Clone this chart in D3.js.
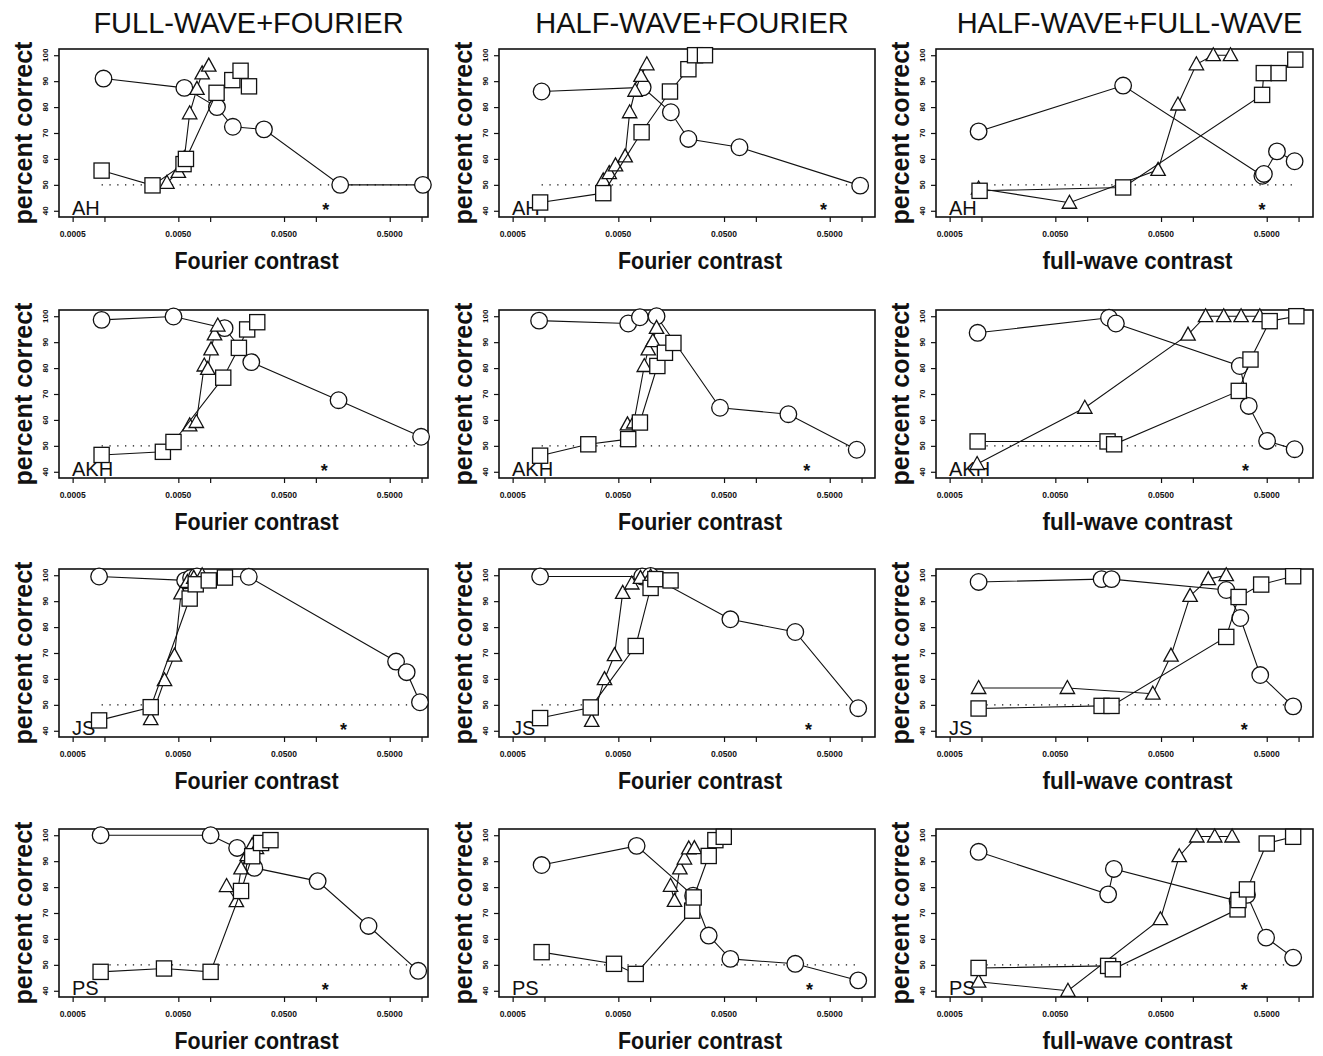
<!DOCTYPE html>
<html><head><meta charset="utf-8">
<script src="https://cdn.jsdelivr.net/npm/d3@7"></script>
<style>body{margin:0;background:#fff}svg{display:block}</style>
</head><body>
<svg id="chart" width="1323" height="1056"></svg>
<script>
// ---------- labels ----------
const titles = ["FULL-WAVE+FOURIER", "HALF-WAVE+FOURIER", "HALF-WAVE+FULL-WAVE"];
const xAxisTitles = ["Fourier contrast", "Fourier contrast", "full-wave contrast"];
const yAxisTitle = "percent correct";
const subjects = ["AH", "AKH", "JS", "PS"];
const yTicks = [40, 50, 60, 70, 80, 90, 100];
const xMajorTicks = [0.0005, 0.005, 0.05, 0.5];
const xTickLabels = ["0.0005", "0.0050", "0.0500", "0.5000"];
const xMinorTicks = [0.001, 0.01, 0.1, 1];
const chanceLevel = 50;
const chanceRange = [0.00094, 0.93];
const asteriskY = 42;
// asterisk contrast per panel (rows AH, AKH, JS, PS; columns FW+F, HW+F, HW+FW)
const asteriskX = [0.124, 0.436, 0.452, 0.12, 0.303, 0.315, 0.183, 0.315, 0.307, 0.123, 0.321, 0.307];

// ---------- data: [contrast, percent correct] ----------
// AH
const ahFwfCircle = [[0.00098,91],[0.0057,87.4],[0.0116,80],[0.0164,72.4],[0.0323,71.4],[0.17,50],[1.03,50]];
const ahFwfTriangle = [[0.0039,50.8],[0.0050,55],[0.0057,60.3],[0.0064,77.6],[0.0075,87],[0.0084,93],[0.0097,96]];
const ahFwfSquare = [[0.00094,55.5],[0.00285,49.8],[0.0056,58],[0.0059,60],[0.0115,85.5],[0.0162,90.4],[0.0194,94],[0.0233,88]];
const ahHwfCircle = [[0.00094,86],[0.0085,87.6],[0.0157,78],[0.023,67.7],[0.07,64.5],[0.97,49.7]];
const ahHwfTriangle = [[0.0036,51.7],[0.0041,54.5],[0.0047,57.5],[0.0058,61],[0.0064,78],[0.0072,86.3],[0.0082,92],[0.0093,96.5]];
const ahHwfSquare = [[0.00091,43.2],[0.0036,46.8],[0.0083,70.3],[0.0154,86],[0.023,94.6],[0.0266,100],[0.033,100]];
const ahHwfwCircle = [[0.00094,70.6],[0.0219,88.3],[0.455,53.5],[0.47,54.2],[0.625,62.9],[0.918,59.1]];
const ahHwfwTriangle = [[0.00094,48.6],[0.0068,43.1],[0.0469,55.8],[0.0723,81],[0.108,96.5],[0.156,100],[0.227,100]];
const ahHwfwSquare = [[0.00096,47.7],[0.0219,49],[0.452,84.7],[0.469,93.1],[0.648,93.1],[0.931,98.3]];
// AKH
const akhFwfCircle = [[0.00094,98.6],[0.0045,99.9],[0.0137,95.4],[0.0245,82.3],[0.164,67.6],[0.99,53.5]];
const akhFwfTriangle = [[0.0064,57.9],[0.0074,59.2],[0.0088,81],[0.0095,79.7],[0.0102,87.2],[0.011,93],[0.0118,96.4]];
const akhFwfSquare = [[0.00094,46.5],[0.00357,47.7],[0.0045,51.5],[0.0133,76.3],[0.0187,87.8],[0.0224,94.9],[0.0279,97.7]];
const akhHwfCircle = [[0.00089,98.3],[0.0062,97.2],[0.008,99.6],[0.0115,100],[0.0458,64.7],[0.203,62.2],[0.9,48.5]];
const akhHwfTriangle = [[0.0061,58.3],[0.007,59],[0.0088,80.8],[0.0096,87.2],[0.0106,90.4],[0.0115,95.5]];
const akhHwfSquare = [[0.00091,46.2],[0.0026,50.6],[0.0062,52.6],[0.008,59],[0.0117,80.8],[0.0138,85.9],[0.0166,89.7]];
const akhHwfwCircle = [[0.00092,93.6],[0.0161,99.4],[0.0187,97.2],[0.278,80.8],[0.338,65.4],[0.504,51.9],[0.918,48.7]];
const akhHwfwTriangle = [[0.00091,43],[0.0095,64.7],[0.09,92.9],[0.132,100],[0.196,100],[0.286,100],[0.43,100]];
const akhHwfwSquare = [[0.00092,51.7],[0.0156,51.7],[0.018,50.6],[0.272,71.2],[0.351,83.3],[0.533,98.1],[0.953,100]];
// JS
const jsFwfCircle = [[0.00089,99.5],[0.0058,98],[0.0066,99],[0.0075,99.5],[0.0232,99.4],[0.574,66.7],[0.723,62.6],[0.966,51]];
const jsFwfTriangle = [[0.00274,44.5],[0.0037,59.5],[0.0046,69],[0.0053,93],[0.0061,97.4],[0.007,99],[0.0084,100]];
const jsFwfSquare = [[0.00089,44],[0.00274,49.1],[0.0064,91],[0.0073,96.5],[0.0097,98],[0.0138,99.1]];
const jsHwfCircle = [[0.00091,99.5],[0.0084,99.5],[0.0101,99.7],[0.0574,83],[0.236,78.1],[0.93,48.7]];
const jsHwfTriangle = [[0.0028,43.8],[0.0037,59.9],[0.0046,69.2],[0.0055,93.2],[0.0067,96.8],[0.0081,99],[0.0101,99.5]];
const jsHwfSquare = [[0.00091,44.9],[0.00274,49],[0.0073,72.7],[0.0101,95.1],[0.0112,98.5],[0.0156,98]];
const jsHwfwCircle = [[0.00094,97.4],[0.0137,98.5],[0.017,98.5],[0.207,94.3],[0.281,83.5],[0.434,61.5],[0.889,49.4]];
const jsHwfwTriangle = [[0.00094,56.5],[0.0065,56.5],[0.0418,54.3],[0.0621,69],[0.0942,92],[0.14,98.5],[0.207,100]];
const jsHwfwSquare = [[0.00094,48.6],[0.0137,49.6],[0.017,49.6],[0.207,76.2],[0.271,91.6],[0.443,96.4],[0.889,99.6]];
// PS
const psFwfCircle = [[0.00092,100],[0.0101,100],[0.018,95.1],[0.0262,87.4],[0.104,82.3],[0.315,65],[0.93,47.7]];
const psFwfTriangle = [[0.0143,80.4],[0.0177,74.6],[0.0196,87.2],[0.0224,92.3],[0.025,96.2],[0.0274,95]];
const psFwfSquare = [[0.00092,47.3],[0.00366,48.6],[0.0101,47.3],[0.0196,78.5],[0.025,91.9],[0.0303,97],[0.0372,98.1]];
const psHwfCircle = [[0.00094,88.5],[0.00745,95.9],[0.0255,76.7],[0.0358,61.3],[0.0574,52.3],[0.236,50.4],[0.93,44]];
const psHwfTriangle = [[0.0156,80.5],[0.017,74.7],[0.0191,87.2],[0.0211,91],[0.0232,94.9],[0.0262,95]];
const psHwfSquare = [[0.00094,54.9],[0.00455,50.4],[0.0073,46.5],[0.025,70.9],[0.0258,76],[0.0358,92],[0.0414,98.1],[0.0497,99.4]];
const psHwfwCircle = [[0.00094,93.6],[0.0158,77.2],[0.0179,87],[0.265,74.6],[0.325,77],[0.493,60.5],[0.889,52.8]];
const psHwfwTriangle = [[0.00094,43.5],[0.00658,40],[0.0493,67.6],[0.0743,91.9],[0.109,99.5],[0.161,99.5],[0.235,99.5]];
const psHwfwSquare = [[0.00094,48.8],[0.0158,49.6],[0.0175,48.3],[0.265,71.4],[0.27,75],[0.325,79.1],[0.5,96.8],[0.889,99.4]];

const panelSeries = [
  [ahFwfCircle, ahFwfTriangle, ahFwfSquare], [ahHwfCircle, ahHwfTriangle, ahHwfSquare], [ahHwfwCircle, ahHwfwTriangle, ahHwfwSquare],
  [akhFwfCircle, akhFwfTriangle, akhFwfSquare], [akhHwfCircle, akhHwfTriangle, akhHwfSquare], [akhHwfwCircle, akhHwfwTriangle, akhHwfwSquare],
  [jsFwfCircle, jsFwfTriangle, jsFwfSquare], [jsHwfCircle, jsHwfTriangle, jsHwfSquare], [jsHwfwCircle, jsHwfwTriangle, jsHwfwSquare],
  [psFwfCircle, psFwfTriangle, psFwfSquare], [psHwfCircle, psHwfTriangle, psHwfSquare], [psHwfwCircle, psHwfwTriangle, psHwfwSquare]
];
const markerKinds = ["circle", "triangle", "square"];

// ---------- layout ----------
const colLeft = [59, 499, 936];
const colWidth = [369, 376, 377];
const rowTop = [49, 310, 569, 829];
const plotH = 168;
const pxPerDecade = 105.7;
const logLeft = -3.43;
const ink = "#111";
const font = "'Liberation Sans', Arial, Helvetica, sans-serif";

const svg = d3.select("#chart");

titles.forEach((t, c) => {
  svg.append("text").attr("x", colLeft[c] + colWidth[c] / 2 + 5).attr("y", 33)
    .attr("text-anchor", "middle").attr("font-family", font).attr("font-size", 29)
    .attr("fill", ink).text(t);
});

for (let r = 0; r < 4; r++) {
  for (let c = 0; c < 3; c++) {
    const idx = r * 3 + c;
    const left = colLeft[c], w = colWidth[c], top = rowTop[r];
    const x = d3.scaleLog().domain([Math.pow(10, logLeft), Math.pow(10, logLeft + w / pxPerDecade)]).range([left, left + w]);
    const y = d3.scaleLinear().domain([37.6, 102.4]).range([top + plotH, top]);
    const g = svg.append("g");

    // x axis ticks
    const xAxis = d3.axisBottom(x).tickValues(xMajorTicks.concat(xMinorTicks)).tickSize(5).tickFormat("");
    const xa = g.append("g").attr("transform", `translate(0,${top + plotH})`).call(xAxis);
    xa.select(".domain").remove();
    xa.selectAll("line").attr("stroke", ink).attr("stroke-width", 1.2);
    xMajorTicks.forEach((v, i) => {
      g.append("text").attr("x", x(v)).attr("y", top + plotH + 20).attr("text-anchor", "middle")
        .attr("font-family", font).attr("font-size", 8.5).attr("font-weight", "bold").attr("fill", ink)
        .text(xTickLabels[i]);
    });
    // y axis ticks
    const yAxis = d3.axisLeft(y).tickValues(yTicks).tickSize(5).tickFormat("");
    const ya = g.append("g").attr("transform", `translate(${left},0)`).call(yAxis);
    ya.select(".domain").remove();
    ya.selectAll("line").attr("stroke", ink).attr("stroke-width", 1.2);
    yTicks.forEach(v => {
      const tx = left - 11, ty = y(v);
      g.append("text").attr("transform", `translate(${tx},${ty}) rotate(-90)`).attr("text-anchor", "middle")
        .attr("font-family", font).attr("font-size", 8).attr("font-weight", "bold").attr("fill", ink).text(v);
    });

    // box
    g.append("rect").attr("x", left).attr("y", top).attr("width", w).attr("height", plotH)
      .attr("fill", "none").attr("stroke", ink).attr("stroke-width", 1.6);

    // chance level dotted line
    g.append("line").attr("x1", x(chanceRange[0])).attr("x2", x(chanceRange[1]))
      .attr("y1", y(chanceLevel)).attr("y2", y(chanceLevel))
      .attr("stroke", ink).attr("stroke-width", 1.3).attr("stroke-dasharray", "1.3,6.5");

    // axis titles
    svg.append("text").attr("transform", `translate(${left - 27},${top + plotH / 2}) rotate(-90)`)
      .attr("text-anchor", "middle").attr("font-family", font).attr("font-size", 25).attr("font-weight", "bold")
      .attr("fill", ink).attr("textLength", 183).attr("lengthAdjust", "spacingAndGlyphs").text(yAxisTitle);
    svg.append("text").attr("x", left + w / 2 + 13).attr("y", top + plotH + 52)
      .attr("text-anchor", "middle").attr("font-family", font).attr("font-size", 24).attr("font-weight", "bold")
      .attr("fill", ink).attr("textLength", c === 2 ? 190 : 164).attr("lengthAdjust", "spacingAndGlyphs")
      .text(xAxisTitles[c]);

    // subject label and asterisk
    g.append("text").attr("x", left + 13).attr("y", top + plotH - 2).attr("font-family", font)
      .attr("font-size", 20).attr("fill", ink).text(subjects[r]);
    g.append("text").attr("x", x(asteriskX[idx])).attr("y", y(asteriskY) + 10).attr("text-anchor", "middle")
      .attr("font-family", font).attr("font-size", 18).attr("font-weight", "bold").attr("fill", ink).text("*");

    // series
    const line = d3.line().x(d => x(d[0])).y(d => y(d[1]));
    panelSeries[idx].forEach((data, si) => {
      const kind = markerKinds[si];
      g.append("path").attr("d", line(data)).attr("fill", "none").attr("stroke", ink).attr("stroke-width", 1.1);
      const sel = g.append("g").selectAll(null).data(data).enter();
      let m;
      if (kind === "circle") {
        m = sel.append("circle").attr("cx", d => x(d[0])).attr("cy", d => y(d[1])).attr("r", 8.3);
      } else if (kind === "square") {
        m = sel.append("rect").attr("x", d => x(d[0]) - 7.6).attr("y", d => y(d[1]) - 7.6)
          .attr("width", 15.2).attr("height", 15.2);
      } else {
        m = sel.append("path").attr("d", d => {
          const cx = x(d[0]), cy = y(d[1]);
          return `M${cx},${cy - 7.5}L${cx + 7.2},${cy + 5.5}L${cx - 7.2},${cy + 5.5}Z`;
        });
      }
      m.attr("fill", "#fff").attr("stroke", ink).attr("stroke-width", 1.3);
    });
  }
}
</script>
</body></html>
